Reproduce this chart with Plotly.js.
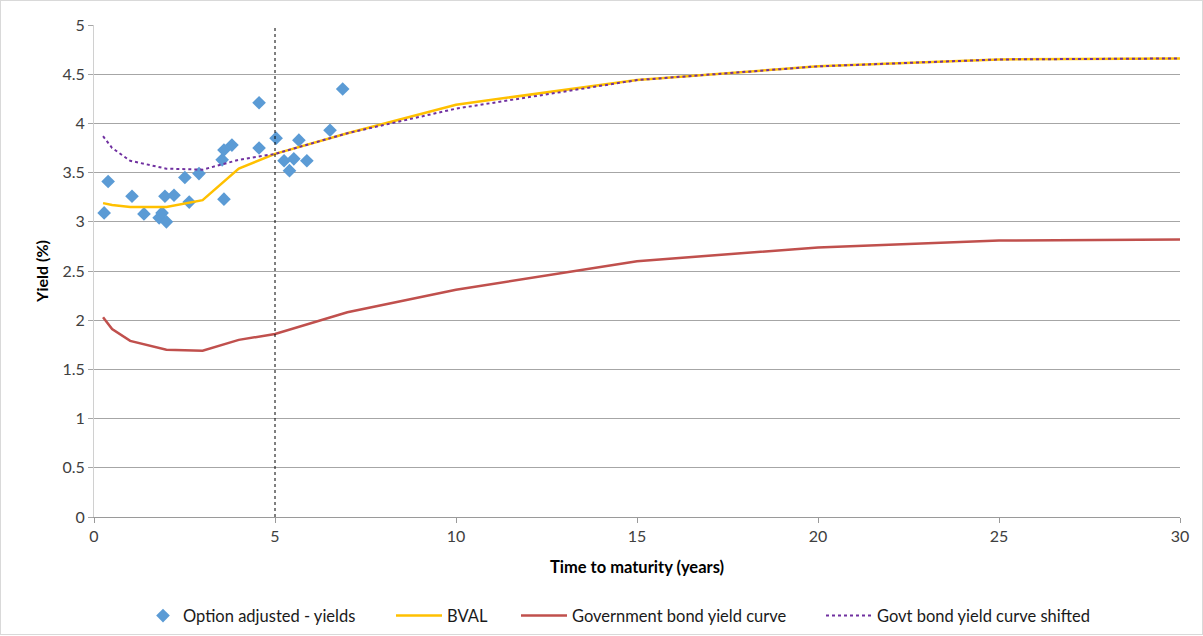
<!DOCTYPE html>
<html>
<head>
<meta charset="utf-8">
<script src="https://cdn.plot.ly/plotly-3.0.1.min.js"></script>
<style>
  html, body { margin: 0; padding: 0; background: #fff; overflow: hidden; }
  #chart { width: 1203px; height: 636px; position: absolute; left: 0; top: 0; }
  #frame { position: absolute; left: 0; top: 0; width: 1201px; height: 633px; border: 1px solid #D9D9D9; pointer-events: none; }
</style>
</head>
<body>
<div id="chart"></div>
<div id="frame"></div>
<script>
// Option adjusted yields (scatter)
const oasMaturity = [0.28, 0.39, 1.05, 1.38, 1.80, 1.88, 1.96, 2.00, 2.21, 2.51, 2.63, 2.90, 3.54, 3.59, 3.59, 3.81, 4.56, 4.56, 5.03, 5.25, 5.40, 5.52, 5.66, 5.88, 6.52, 6.87];
const oasYield    = [3.09, 3.41, 3.26, 3.08, 3.04, 3.09, 3.26, 3.00, 3.27, 3.45, 3.20, 3.49, 3.63, 3.73, 3.23, 3.78, 4.21, 3.75, 3.85, 3.62, 3.52, 3.64, 3.83, 3.62, 3.93, 4.35];

// Curve tenors (years)
const tenors = [0.25, 0.5, 1, 2, 3, 4, 5, 7, 10, 15, 20, 25, 30];
const bvalYield    = [3.19, 3.17, 3.15, 3.15, 3.22, 3.54, 3.69, 3.90, 4.19, 4.44, 4.58, 4.65, 4.66];
const govYield     = [2.03, 1.91, 1.79, 1.70, 1.69, 1.80, 1.86, 2.08, 2.31, 2.60, 2.74, 2.81, 2.82];
const govShifted   = [3.87, 3.75, 3.62, 3.54, 3.53, 3.63, 3.69, 3.90, 4.15, 4.44, 4.58, 4.65, 4.66];

const cutoffYear = 5;
const yTickVals = [0, 0.5, 1, 1.5, 2, 2.5, 3, 3.5, 4, 4.5, 5];
const yTickText = ["0", "0.5", "1", "1.5", "2", "2.5", "3", "3.5", "4", "4.5", "5"];

const FONT = "Lato, 'Open Sans', Arial, sans-serif";
const legendFont = { family: FONT, size: 16.5, color: '#1a1a1a' };

const traces = [
  {
    x: oasMaturity, y: oasYield, type: 'scatter', mode: 'markers',
    name: 'Option adjusted - yields', legend: 'legend',
    marker: { symbol: 'diamond', size: 10.5, color: '#5B9BD5' }
  },
  {
    x: tenors, y: bvalYield, type: 'scatter', mode: 'lines',
    name: 'BVAL', legend: 'legend2',
    line: { color: '#FFC000', width: 2.5 }
  },
  {
    x: tenors, y: govYield, type: 'scatter', mode: 'lines',
    name: 'Government bond yield curve', legend: 'legend3',
    line: { color: '#C0504D', width: 2.5 }
  },
  {
    x: tenors, y: govShifted, type: 'scatter', mode: 'lines',
    name: 'Govt bond yield curve shifted', legend: 'legend4',
    line: { color: '#7030A0', width: 2, dash: 'dot' }
  }
];

function legendAt(px, iw) {
  return {
    orientation: 'h', x: (px - 94) / 1086, xanchor: 'left',
    y: -0.201, yanchor: 'middle', font: legendFont,
    itemwidth: iw,
    bgcolor: 'rgba(0,0,0,0)', borderwidth: 0
  };
}

const layout = {
  width: 1203, height: 636,
  margin: { l: 94, r: 23, t: 25, b: 119, autoexpand: false },
  paper_bgcolor: '#ffffff', plot_bgcolor: '#ffffff',
  font: { family: FONT, size: 16, color: '#404040' },
  showlegend: true,
  legend: legendAt(143, 30),
  legend2: legendAt(391, 46),
  legend3: legendAt(516, 46),
  legend4: legendAt(821, 46),
  xaxis: {
    range: [0, 30], dtick: 5, tick0: 0, automargin: false,
    showgrid: false, zeroline: false,
    showline: true, linecolor: '#9A9A9A', linewidth: 1,
    ticks: 'outside', ticklen: 5, tickcolor: '#9A9A9A',
    tickfont: { family: FONT, size: 16, color: '#404040' },
    title: { text: '<b>Time to maturity (years)</b>', font: { family: FONT, size: 16.5, color: '#000' }, standoff: 17 }
  },
  yaxis: {
    range: [0, 5], tickvals: yTickVals, ticktext: yTickText, automargin: false,
    showgrid: true, gridcolor: '#A6A6A6', gridwidth: 1,
    zeroline: false,
    showline: true, linecolor: '#D0D0D0', linewidth: 1,
    ticks: 'outside', ticklen: 5, tickcolor: '#A6A6A6',
    tickfont: { family: FONT, size: 16, color: '#404040' },
    title: { text: '<b>Yield (%)</b>', font: { family: FONT, size: 16, color: '#000' }, standoff: 9 }
  },
  shapes: [
    {
      type: 'line', xref: 'x', yref: 'paper',
      x0: cutoffYear, x1: cutoffYear, y0: 0, y1: 1,
      line: { color: '#000000', width: 1, dash: 'dot' }
    }
  ]
};

Plotly.newPlot('chart', traces, layout, { displayModeBar: false, staticPlot: true });
</script>
</body>
</html>
